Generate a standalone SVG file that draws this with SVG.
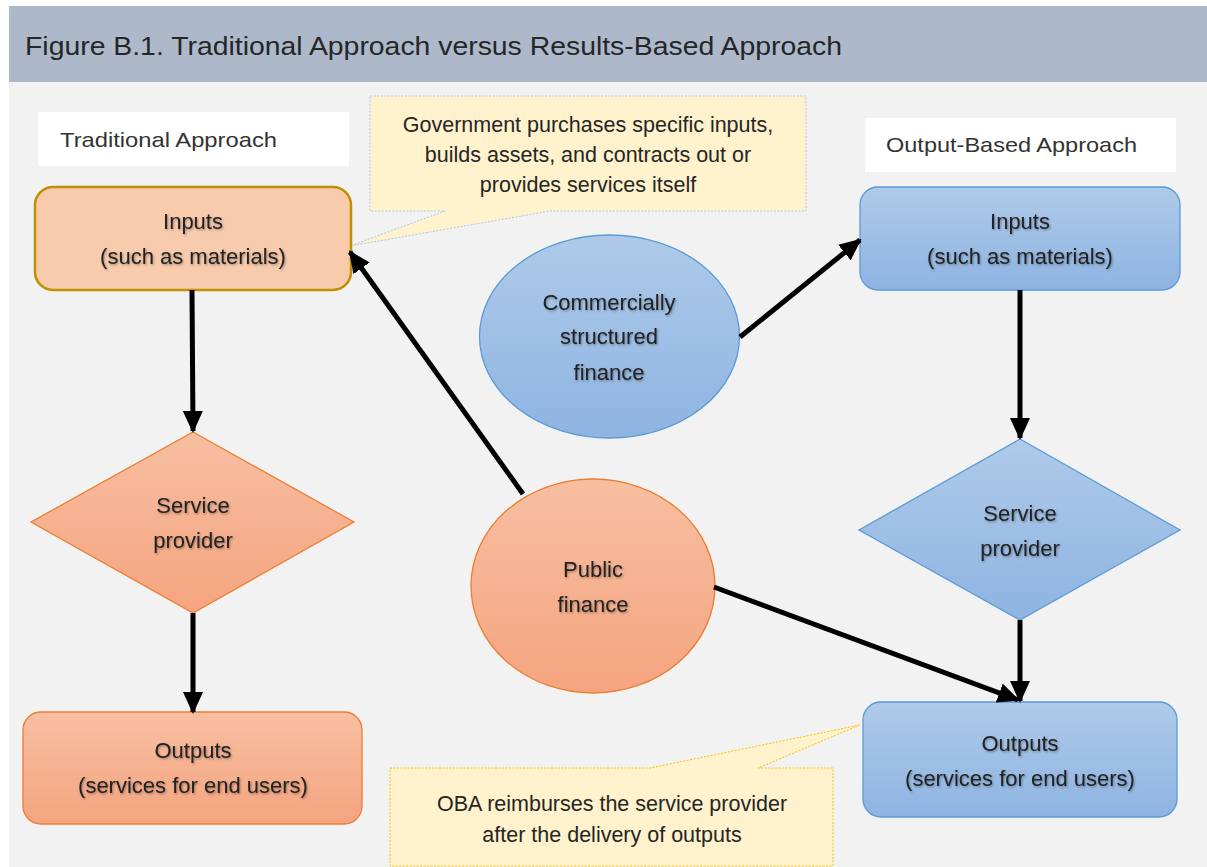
<svg xmlns="http://www.w3.org/2000/svg" width="1207" height="867" viewBox="0 0 1207 867">
<style>
.t{font-family:"Liberation Sans",Arial,sans-serif;fill:#222;text-anchor:middle;font-size:22px}
.lbl{font-family:"Liberation Sans",Arial,sans-serif;fill:#333;font-size:21px}
.call{font-family:"Liberation Sans",Arial,sans-serif;fill:#262626;text-anchor:middle;font-size:21.5px}
.conn{stroke:#000;stroke-width:5;fill:none}
.orange{fill:url(#go);stroke:#ed7d31;stroke-width:1.3}
.blue{fill:url(#gb);stroke:#5b9bd5;stroke-width:1.3}
</style>
<defs>
<linearGradient id="go" x1="0" y1="0" x2="0" y2="1"><stop offset="0" stop-color="#f7bfa2"/><stop offset="1" stop-color="#f5a47f"/></linearGradient>
<linearGradient id="gb" x1="0" y1="0" x2="0" y2="1"><stop offset="0" stop-color="#afcae9"/><stop offset="1" stop-color="#8eb4e2"/></linearGradient>
<filter id="sh" x="-10%" y="-20%" width="120%" height="150%"><feDropShadow dx="1" dy="1.2" stdDeviation="0.8" flood-color="#000" flood-opacity="0.35"/></filter>
<marker id="ah" markerUnits="userSpaceOnUse" markerWidth="22" markerHeight="20" viewBox="0 0 22 20" refX="20" refY="10" orient="auto"><path d="M0,0 L22,10 L0,20 Z" fill="#000"/></marker>
</defs>
<rect x="0" y="0" width="1207" height="867" fill="#fff"/>
<rect x="9" y="6" width="1198" height="76" fill="#adb9ca"/>
<rect x="9" y="82" width="1198" height="785" fill="#f2f2f2"/>
<text x="25" y="55" font-family="Liberation Sans,Arial,sans-serif" font-size="26" fill="#262626" textLength="817" lengthAdjust="spacingAndGlyphs">Figure B.1. Traditional Approach versus Results-Based Approach</text>

<g id="label-traditional"><rect x="38" y="112" width="311" height="54" fill="#fff"/><text class="lbl" x="60" y="147" textLength="217" lengthAdjust="spacingAndGlyphs">Traditional Approach</text></g>
<g id="label-output"><rect x="865" y="118" width="311" height="54" fill="#fff"/><text class="lbl" x="886" y="152" textLength="251" lengthAdjust="spacingAndGlyphs">Output-Based Approach</text></g>

<g id="callout-government">
<path d="M370,96 H806 V211 H550 L350,246 L445,211 H370 Z" fill="#fff2cc" stroke="#a9c9e6" stroke-width="1" stroke-dasharray="2,1.5"/>
<text class="call" x="588" y="132">Government purchases specific inputs,</text>
<text class="call" x="588" y="162">builds assets, and contracts out or</text>
<text class="call" x="588" y="192">provides services itself</text>
</g>

<g id="callout-oba">
<path d="M390,768 H650 L860,725 L758,768 H833 V866 H390 Z" fill="#fff2cc" stroke="#ffc000" stroke-width="1" stroke-dasharray="2,1.5"/>
<text class="call" x="612" y="811">OBA reimburses the service provider</text>
<text class="call" x="612" y="842">after the delivery of outputs</text>
</g>

<g id="trad-inputs">
<rect x="35" y="187" width="316" height="103" rx="18" fill="#f8cbad" stroke="#bf9000" stroke-width="2.5"/>
<text class="t" filter="url(#sh)" x="193" y="229">Inputs</text>
<text class="t" filter="url(#sh)" x="193" y="264">(such as materials)</text>
</g>
<g id="trad-provider">
<path class="orange" d="M193,432 L354,522 L193,613 L31,522 Z"/>
<text class="t" filter="url(#sh)" x="193" y="513">Service</text>
<text class="t" filter="url(#sh)" x="193" y="548">provider</text>
</g>
<g id="trad-outputs">
<rect class="orange" x="23" y="712" width="339" height="112" rx="18"/>
<text class="t" filter="url(#sh)" x="193" y="758">Outputs</text>
<text class="t" filter="url(#sh)" x="193" y="793">(services for end users)</text>
</g>
<g id="commercial-finance">
<ellipse class="blue" cx="609.5" cy="336.5" rx="130" ry="101.5"/>
<text class="t" filter="url(#sh)" x="609" y="310">Commercially</text>
<text class="t" filter="url(#sh)" x="609" y="344">structured</text>
<text class="t" filter="url(#sh)" x="609" y="380">finance</text>
</g>
<g id="public-finance">
<ellipse class="orange" cx="593" cy="586" rx="122" ry="107"/>
<text class="t" filter="url(#sh)" x="593" y="577">Public</text>
<text class="t" filter="url(#sh)" x="593" y="612">finance</text>
</g>
<g id="oba-inputs">
<rect class="blue" x="860" y="187" width="320" height="103" rx="18"/>
<text class="t" filter="url(#sh)" x="1020" y="229">Inputs</text>
<text class="t" filter="url(#sh)" x="1020" y="264">(such as materials)</text>
</g>
<g id="oba-provider">
<path class="blue" d="M1020,439 L1180,530 L1020,620 L859,530 Z"/>
<text class="t" filter="url(#sh)" x="1020" y="521">Service</text>
<text class="t" filter="url(#sh)" x="1020" y="556">provider</text>
</g>
<g id="oba-outputs">
<rect class="blue" x="863" y="702" width="314" height="115" rx="18"/>
<text class="t" filter="url(#sh)" x="1020" y="751">Outputs</text>
<text class="t" filter="url(#sh)" x="1020" y="786">(services for end users)</text>
</g>

<g id="connectors">
<line class="conn" x1="192" y1="290" x2="193" y2="431" marker-end="url(#ah)"/>
<line class="conn" x1="193" y1="613" x2="193" y2="712" marker-end="url(#ah)"/>
<line class="conn" x1="523" y1="494" x2="350" y2="252" marker-end="url(#ah)"/>
<line class="conn" x1="740" y1="337" x2="860" y2="240" marker-end="url(#ah)"/>
<line class="conn" x1="1020" y1="290" x2="1020" y2="438" marker-end="url(#ah)"/>
<line class="conn" x1="1020" y1="620" x2="1020" y2="701" marker-end="url(#ah)"/>
<line class="conn" x1="714" y1="587" x2="1018" y2="700" marker-end="url(#ah)"/>
</g>
</svg>
